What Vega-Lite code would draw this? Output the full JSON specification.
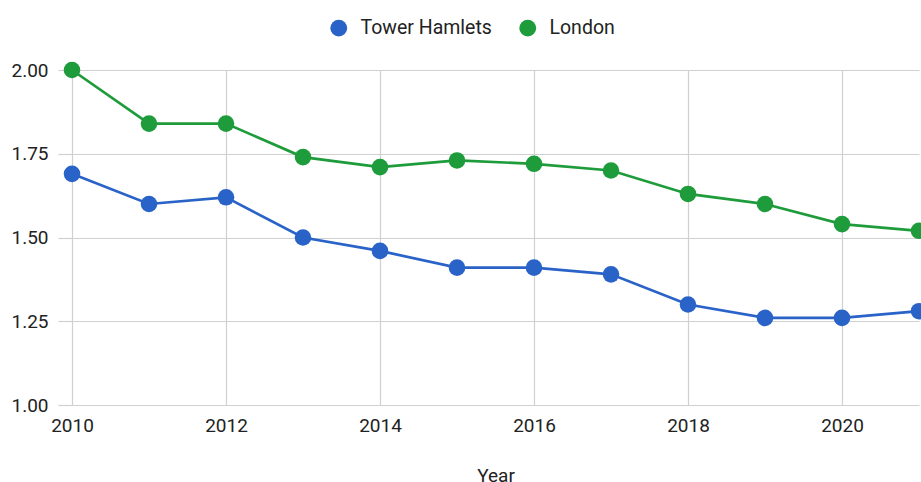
{
  "$schema": "https://vega.github.io/schema/vega-lite/v6.json",
  "width": 847,
  "height": 335,
  "autosize": {"type": "none"},
  "padding": {"left": 72, "top": 70, "right": 2, "bottom": 77},
  "config": {
    "font": "Roboto",
    "view": {"stroke": null},
    "axis": {"labelColor": "#222222", "titleColor": "#222222", "labelFont": "Roboto", "titleFont": "Roboto"},
    "legend": {"labelColor": "#222222", "labelFont": "Roboto"}
  },
  "data": {
    "values": [
      {"Year": 2010, "Area": "Tower Hamlets", "Rate": 1.69},
      {"Year": 2011, "Area": "Tower Hamlets", "Rate": 1.60},
      {"Year": 2012, "Area": "Tower Hamlets", "Rate": 1.62},
      {"Year": 2013, "Area": "Tower Hamlets", "Rate": 1.50},
      {"Year": 2014, "Area": "Tower Hamlets", "Rate": 1.46},
      {"Year": 2015, "Area": "Tower Hamlets", "Rate": 1.41},
      {"Year": 2016, "Area": "Tower Hamlets", "Rate": 1.41},
      {"Year": 2017, "Area": "Tower Hamlets", "Rate": 1.39},
      {"Year": 2018, "Area": "Tower Hamlets", "Rate": 1.30},
      {"Year": 2019, "Area": "Tower Hamlets", "Rate": 1.26},
      {"Year": 2020, "Area": "Tower Hamlets", "Rate": 1.26},
      {"Year": 2021, "Area": "Tower Hamlets", "Rate": 1.28},
      {"Year": 2010, "Area": "London", "Rate": 2.00},
      {"Year": 2011, "Area": "London", "Rate": 1.84},
      {"Year": 2012, "Area": "London", "Rate": 1.84},
      {"Year": 2013, "Area": "London", "Rate": 1.74},
      {"Year": 2014, "Area": "London", "Rate": 1.71},
      {"Year": 2015, "Area": "London", "Rate": 1.73},
      {"Year": 2016, "Area": "London", "Rate": 1.72},
      {"Year": 2017, "Area": "London", "Rate": 1.70},
      {"Year": 2018, "Area": "London", "Rate": 1.63},
      {"Year": 2019, "Area": "London", "Rate": 1.60},
      {"Year": 2020, "Area": "London", "Rate": 1.54},
      {"Year": 2021, "Area": "London", "Rate": 1.52}
    ]
  },
  "encoding": {
    "x": {
      "field": "Year",
      "type": "quantitative",
      "scale": {"domain": [2010, 2021], "nice": false, "zero": false},
      "axis": {
        "values": [2010, 2012, 2014, 2016, 2018, 2020],
        "format": "d",
        "grid": true,
        "gridColor": "#d0d0d0",
        "gridWidth": 1.2,
        "ticks": false,
        "domain": false,
        "labelFlush": false,
        "labelBound": false,
        "labelPadding": 11,
        "labelFontSize": 19,
        "title": "Year",
        "titleFontSize": 19,
        "titleFontWeight": "normal",
        "titleBaseline": "alphabetic",
        "titlePadding": 46
      }
    },
    "y": {
      "field": "Rate",
      "type": "quantitative",
      "scale": {"domain": [1, 2], "nice": false, "zero": false},
      "axis": {
        "values": [1, 1.25, 1.5, 1.75, 2],
        "format": ".2f",
        "grid": true,
        "gridColor": "#d0d0d0",
        "gridWidth": 1.2,
        "tickSize": 14,
        "tickColor": "#d0d0d0",
        "tickWidth": 1.2,
        "domain": false,
        "labelPadding": 10,
        "labelFontSize": 19,
        "title": null
      }
    },
    "color": {
      "field": "Area",
      "type": "nominal",
      "scale": {"domain": ["Tower Hamlets", "London"], "range": ["#2a63c8", "#1e9b3a"]},
      "legend": {
        "title": null,
        "orient": "none",
        "direction": "horizontal",
        "legendX": 257,
        "legendY": -52,
        "symbolType": "circle",
        "symbolSize": 283,
        "symbolStrokeWidth": 0,
        "labelFontSize": 19.5,
        "labelOffset": 12,
        "columnPadding": 26
      }
    }
  },
  "layer": [
    {"mark": {"type": "line", "strokeWidth": 2.7}},
    {"mark": {"type": "point", "filled": true, "opacity": 1, "size": 275, "shape": "circle"}}
  ]
}
